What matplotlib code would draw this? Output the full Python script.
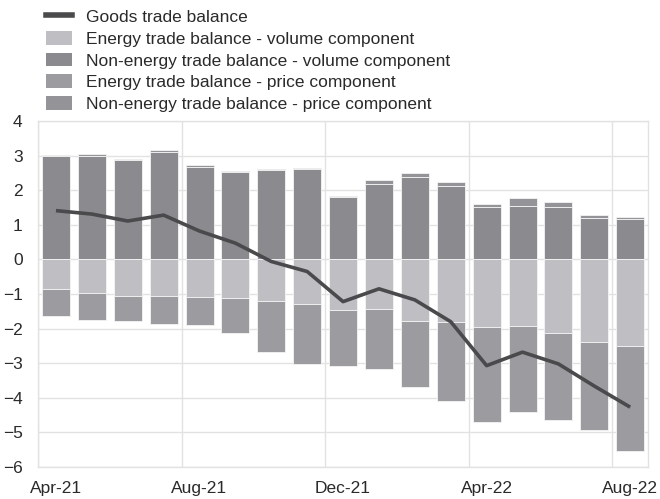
import matplotlib
matplotlib.use("Agg")
import matplotlib.pyplot as plt
from matplotlib.patches import Patch
from matplotlib.lines import Line2D
import numpy as np

plt.rcParams['font.family'] = ['Liberation Sans', 'DejaVu Sans']

months = ["Apr-21", "May-21", "Jun-21", "Jul-21", "Aug-21", "Sep-21", "Oct-21", "Nov-21",
          "Dec-21", "Jan-22", "Feb-22", "Mar-22", "Apr-22", "May-22", "Jun-22", "Jul-22", "Aug-22"]

goods_balance = [1.41, 1.31, 1.11, 1.28, 0.82, 0.47, -0.06, -0.35, -1.22, -0.85, -1.17, -1.80,
                 -3.07, -2.68, -3.02, -3.66, -4.27]
nonenergy_volume = [2.98, 3.00, 2.86, 3.11, 2.68, 2.52, 2.59, 2.60, 1.80, 2.18, 2.39, 2.13,
                    1.51, 1.53, 1.51, 1.19, 1.16]
nonenergy_price = [0.05, 0.05, 0.04, 0.05, 0.04, 0.03, 0.03, 0.04, 0.02, 0.12, 0.10, 0.10,
                   0.10, 0.25, 0.15, 0.08, 0.08]
energy_volume = [-0.85, -0.96, -1.05, -1.07, -1.09, -1.11, -1.19, -1.29, -1.46, -1.43, -1.78, -1.80,
                 -1.94, -1.92, -2.13, -2.40, -2.50]
energy_price = [-0.78, -0.79, -0.72, -0.79, -0.81, -1.01, -1.48, -1.72, -1.61, -1.74, -1.91, -2.28,
                -2.76, -2.48, -2.50, -2.53, -3.03]

tick_labels = ["Apr-21", "Aug-21", "Dec-21", "Apr-22", "Aug-22"]

c_line = "#4a4a4c"
c_ev = "#bfbfc3"
c_nev = "#8b8b8f"
c_ep = "#9c9ca0"
c_nep = "#949498"
c_text = "#2a2a2a"

fig = plt.figure(figsize=(6.6, 4.99), dpi=100)
ax = fig.add_axes([0.0576, 0.0641, 0.9244, 0.6934])

x = np.arange(len(months))
w = 0.78
ek = dict(edgecolor="#f4f4f4", linewidth=0.6, zorder=2)
ax.bar(x, nonenergy_volume, w, color=c_nev, **ek)
ax.bar(x, nonenergy_price, w, bottom=nonenergy_volume, color=c_nep, **ek)
ax.bar(x, energy_volume, w, color=c_ev, **ek)
ax.bar(x, energy_price, w, bottom=energy_volume, color=c_ep, **ek)
ax.plot(x, goods_balance, color=c_line, lw=2.6, zorder=3, solid_capstyle='butt')

ax.set_xlim(-0.5, 16.5)
ax.set_ylim(-6, 4)
ax.set_yticks(np.arange(-6, 5, 1))
ax.set_xticks([0, 4, 8, 12, 16])
ax.set_xticklabels(tick_labels)
ax.set_xticks([-0.5, 3.5, 7.5, 11.5, 15.5], minor=True)
ax.grid(True, axis='y', color="#e2e2e2", lw=1.0, zorder=0)
ax.grid(True, axis='x', which='minor', color="#e2e2e2", lw=1.0, zorder=0)
ax.set_axisbelow(True)
ax.tick_params(axis='both', which='both', length=0, labelsize=12.5, colors=c_text)
ax.tick_params(axis='x', pad=10)
ax.tick_params(axis='y', pad=11)
for s in ax.spines.values():
    s.set_color("#e2e2e2")
    s.set_linewidth(1.0)

handles = [Line2D([], [], color=c_line, lw=4),
           Patch(facecolor=c_ev), Patch(facecolor=c_nev), Patch(facecolor=c_ep), Patch(facecolor=c_nep)]
labels = ["Goods trade balance", "Energy trade balance - volume component",
          "Non-energy trade balance - volume component", "Energy trade balance - price component",
          "Non-energy trade balance - price component"]
fig.legend(handles, labels, loc='upper left', bbox_to_anchor=(0.059, 0.996), frameon=False,
           fontsize=12.5, handlelength=1.5, handleheight=0.85, labelspacing=0.34,
           handletextpad=0.8, labelcolor=c_text, borderaxespad=0)

fig.savefig("out.png", dpi=100)
